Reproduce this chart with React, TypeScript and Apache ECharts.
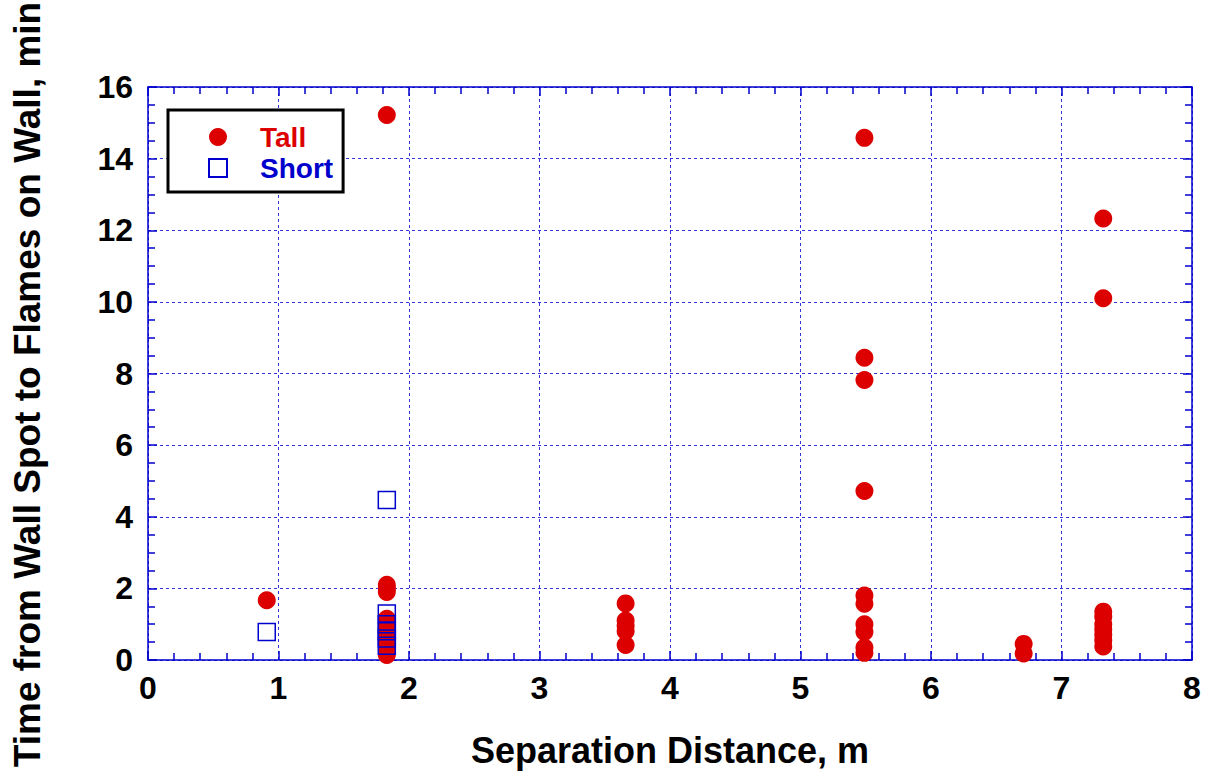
import React, { useEffect, useRef } from "react";
import * as echarts from "echarts";

const tallX = [0.91, 1.83, 1.83, 1.83, 1.83, 1.83, 1.83, 1.83, 1.83, 1.83, 1.83, 1.83, 1.83,
  3.66, 3.66, 3.66, 3.66, 3.66,
  5.49, 5.49, 5.49, 5.49, 5.49, 5.49, 5.49, 5.49, 5.49, 5.49,
  6.71, 6.71,
  7.32, 7.32, 7.32, 7.32, 7.32, 7.32, 7.32, 7.32, 7.32];
const tallY = [1.67, 15.22, 2.1, 2.0, 1.9, 1.15, 1.0, 0.85, 0.7, 0.55, 0.42, 0.28, 0.14,
  1.58, 1.1, 0.95, 0.8, 0.42,
  14.58, 8.44, 7.82, 4.72, 1.8, 1.57, 1.0, 0.78, 0.35, 0.2,
  0.45, 0.18,
  12.33, 10.1, 1.35, 1.2, 1.0, 0.85, 0.7, 0.55, 0.38];
const shortX = [0.91, 1.83, 1.83, 1.83, 1.83, 1.83, 1.83];
const shortY = [0.78, 4.47, 1.3, 1.0, 0.8, 0.6, 0.4];

const seriesNames = ["Tall", "Short"];
const xTitle = "Separation Distance, m";
const yTitle = "Time from Wall Spot to Flames on Wall, min";

const BLUE = "#0000cc";
const RED = "#dd0000";

export default function App() {
  const ref = useRef<HTMLDivElement>(null);
  useEffect(() => {
    if (!ref.current) return;
    const chart = echarts.init(ref.current, null, { renderer: "svg" });
    const font = "Arial, 'Liberation Sans', Helvetica, sans-serif";
    const tickLabel = { color: "#000", fontSize: 32, fontWeight: "bold" as const, fontFamily: font };
    const baseX = {
      type: "value" as const, min: 0, max: 8, interval: 1,
      axisLine: { show: true, onZero: false, lineStyle: { color: BLUE, width: 1.5 } },
      axisTick: { show: true, inside: true, length: 9, lineStyle: { color: BLUE, width: 1.5 } },
      minorTick: { show: true, splitNumber: 5, length: 7, lineStyle: { color: BLUE, width: 1.5 } },
    };
    const baseY = {
      type: "value" as const, min: 0, max: 16, interval: 2,
      axisLine: { show: true, onZero: false, lineStyle: { color: BLUE, width: 1.5 } },
      axisTick: { show: true, inside: true, length: 9, lineStyle: { color: BLUE, width: 1.5 } },
      minorTick: { show: true, splitNumber: 4, length: 7, lineStyle: { color: BLUE, width: 1.5 } },
    };
    const split = { show: true, lineStyle: { color: "#3333dd", type: [3, 3] as any, width: 1 } };
    chart.setOption({
      animation: false,
      backgroundColor: "#fff",
      grid: { left: 148, right: 16, top: 87, bottom: 110 },
      legend: {
        left: 168, top: 110, orient: "vertical",
        backgroundColor: "#fff",
        borderColor: "#000", borderWidth: 3,
        padding: [13, 10, 10, 40],
        itemGap: 3, itemWidth: 18, itemHeight: 18,
        textStyle: { fontSize: 28, fontWeight: "bold", fontFamily: font, padding: [0, 0, 0, 28] },
        data: [
          { name: seriesNames[0], textStyle: { color: RED } },
          { name: seriesNames[1], textStyle: { color: BLUE } },
        ],
      },
      xAxis: [
        {
          ...baseX, position: "bottom",
          name: xTitle, nameLocation: "middle", nameGap: 72,
          nameTextStyle: { color: "#000", fontSize: 36, fontWeight: "bold", fontFamily: font },
          axisLabel: { ...tickLabel, margin: 12 },
          splitLine: split,
        },
        {
          ...baseX, position: "top",
          axisLabel: { show: false }, splitLine: { show: false },
        },
      ],
      yAxis: [
        {
          ...baseY, position: "left",
          name: yTitle, nameLocation: "middle", nameGap: 102,
          nameTextStyle: { color: "#000", fontSize: 37, fontWeight: "bold", fontFamily: font, padding: [0, 22, 0, 0] },
          axisLabel: { ...tickLabel, margin: 15 },
          splitLine: split,
        },
        {
          ...baseY, position: "right",
          axisLabel: { show: false }, splitLine: { show: false },
        },
      ],
      series: [
        {
          name: seriesNames[0], type: "scatter", xAxisIndex: 0, yAxisIndex: 0,
          symbol: "circle", symbolSize: 18,
          itemStyle: { color: RED, opacity: 1 },
          data: tallX.map((x, i) => [x, tallY[i]]),
        },
        {
          name: seriesNames[1], type: "scatter", xAxisIndex: 0, yAxisIndex: 0,
          symbol: "rect", symbolSize: 17,
          itemStyle: { color: "rgba(0,0,0,0)", borderColor: BLUE, borderWidth: 1.5, opacity: 1 },
          data: shortX.map((x, i) => [x, shortY[i]]),
        },
      ],
    });
    return () => chart.dispose();
  }, []);
  return (
    <div ref={ref} style={{ position: "absolute", left: 0, top: 0, width: 1208, height: 773 }} />
  );
}
